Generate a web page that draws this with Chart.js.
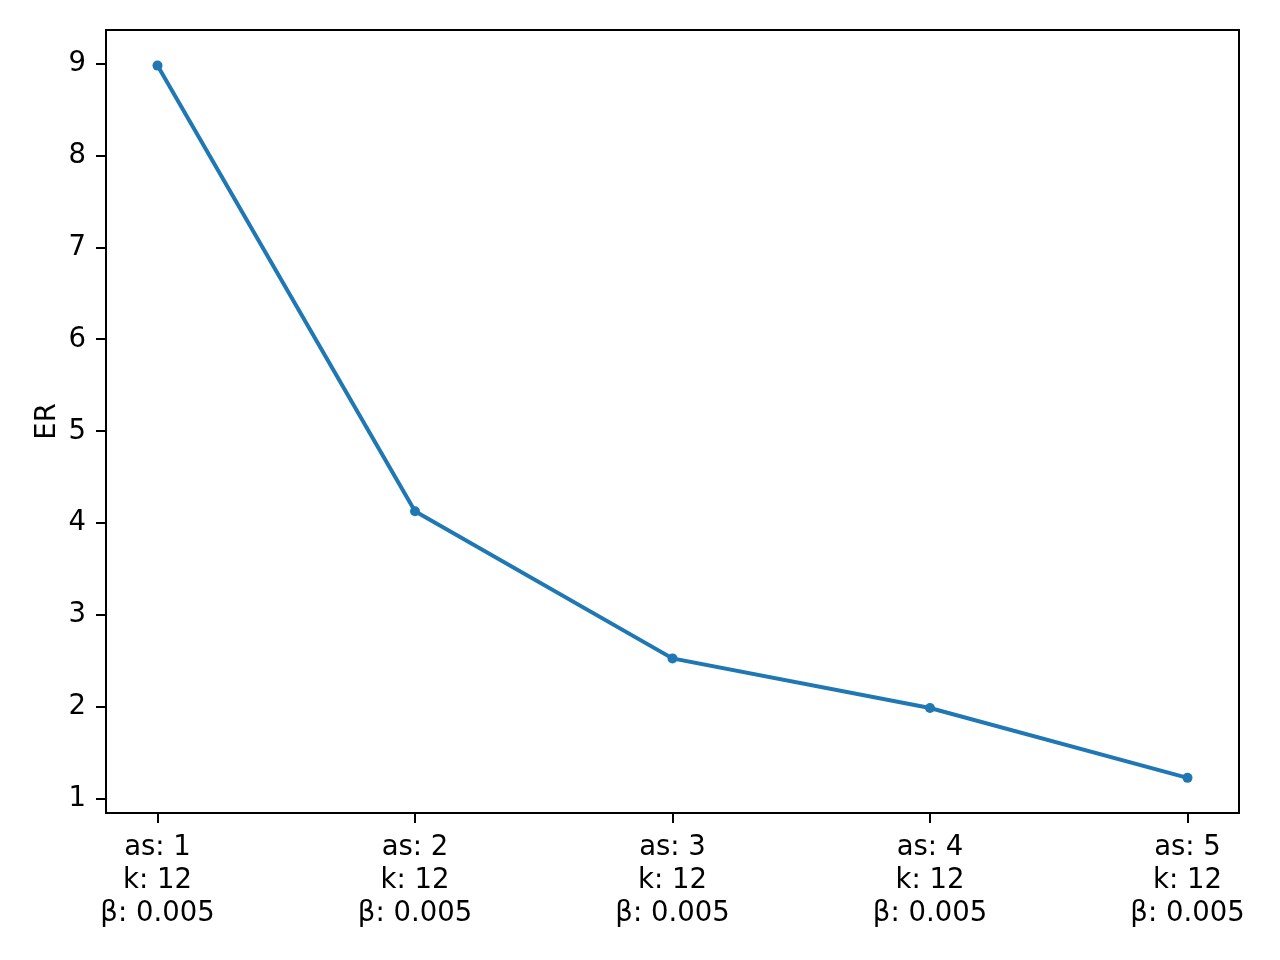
<!DOCTYPE html>
<html>
<head>
<meta charset="utf-8">
<script src="https://cdn.jsdelivr.net/npm/chart.js@4/dist/chart.umd.min.js"></script>
<style>
  html, body { margin: 0; padding: 0; background: #fff; }
  #wrap { width: 1280px; height: 960px; }
</style>
</head>
<body>
<div id="wrap"><canvas id="erChart" width="1280" height="960"></canvas></div>
<script>
// Chart data
const xPositions = [0, 1, 2, 3, 4];
const xLabels = [
    ['as: 1', 'k: 12', 'β: 0.005'],
    ['as: 2', 'k: 12', 'β: 0.005'],
    ['as: 3', 'k: 12', 'β: 0.005'],
    ['as: 4', 'k: 12', 'β: 0.005'],
    ['as: 5', 'k: 12', 'β: 0.005']
];
const erValues = [8.98, 4.13, 2.53, 1.99, 1.23];
const yTicks = [1, 2, 3, 4, 5, 6, 7, 8, 9];

const FONT = '"DejaVu Sans", sans-serif';

/**
 * Draw the box around the plot area (matplotlib-style frame)
 */
const frameBox = {
    id: 'frameBox',
    afterDraw(chart) {
        const a = chart.chartArea;
        const ctx = chart.ctx;
        ctx.save();
        ctx.strokeStyle = '#000';
        ctx.lineWidth = 2;
        ctx.strokeRect(a.left, a.top, a.right - a.left, a.bottom - a.top);
        ctx.restore();
    }
};

document.addEventListener('DOMContentLoaded', function() {
    const ctx = document.getElementById('erChart');

    new Chart(ctx, {
        type: 'line',
        data: {
            datasets: [{
                label: 'ER',
                data: xPositions.map((x, i) => ({ x: x, y: erValues[i] })),
                borderColor: '#1f77b4',
                backgroundColor: '#1f77b4',
                borderWidth: 4,
                pointRadius: 5,
                pointBorderWidth: 0,
                pointBackgroundColor: '#1f77b4',
                tension: 0,
                fill: false
            }]
        },
        options: {
            responsive: false,
            animation: false,
            layout: { padding: { left: 0, right: 41, top: 30, bottom: 0 } },
            plugins: {
                legend: { display: false },
                tooltip: { enabled: false }
            },
            scales: {
                x: {
                    type: 'linear',
                    min: -0.2,
                    max: 4.2,
                    afterBuildTicks: scale => { scale.ticks = xPositions.map(v => ({ value: v })); },
                    afterFit: scale => { scale.height = 147; },
                    grid: {
                        drawOnChartArea: false,
                        color: '#000',
                        lineWidth: 2,
                        tickLength: 10
                    },
                    border: { display: true, color: '#000', width: 2 },
                    ticks: {
                        color: '#000',
                        padding: 8,
                        maxRotation: 0,
                        autoSkip: false,
                        font: { family: FONT, size: 27.5, lineHeight: 1.2 },
                        callback: (value) => xLabels[xPositions.indexOf(value)]
                    }
                },
                y: {
                    min: 0.8475,
                    max: 9.3675,
                    afterBuildTicks: scale => { scale.ticks = yTicks.map(v => ({ value: v })); },
                    afterFit: scale => { scale.width = 106; },
                    grid: {
                        drawOnChartArea: false,
                        color: '#000',
                        lineWidth: 2,
                        tickLength: 10
                    },
                    border: { display: true, color: '#000', width: 2 },
                    title: {
                        display: true,
                        text: 'ER',
                        color: '#000',
                        font: { family: FONT, size: 27.5 },
                        padding: { top: 31, bottom: 0 }
                    },
                    ticks: {
                        color: '#000',
                        padding: 10,
                        font: { family: FONT, size: 27.5 }
                    }
                }
            }
        },
        plugins: [frameBox]
    });
});
</script>
</body>
</html>
